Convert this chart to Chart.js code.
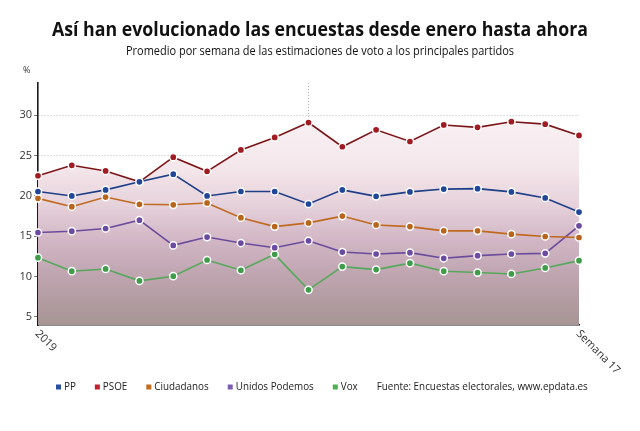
<!DOCTYPE html>
<html>
<head>
<meta charset="utf-8">
<script src="https://cdn.jsdelivr.net/npm/chart.js@4/dist/chart.umd.min.js"></script>
<style>
  html, body { margin: 0; padding: 0; background: #fff; }
  #wrap { width: 640px; height: 431px; position: relative; }
</style>
</head>
<body>
<div id="wrap"><canvas id="c" width="640" height="431"></canvas></div>
<script>
// ---- data ----
const weeks = ['2019', '', '', '', '', '', '', '', '', '', '', '', '', '', '', '', 'Semana 17'];
const seriesNames = ['PP', 'PSOE', 'Ciudadanos', 'Unidos Podemos', 'Vox'];
const pp         = [20.55, 20.0, 20.75, 21.75, 22.7, 20.0, 20.55, 20.55, 19.0, 20.75, 19.95, 20.5, 20.85, 20.9, 20.5, 19.75, 18.0];
const psoe       = [22.5, 23.8, 23.1, 21.75, 24.8, 23.05, 25.7, 27.25, 29.1, 26.1, 28.2, 26.75, 28.8, 28.5, 29.2, 28.9, 27.5];
const ciudadanos = [19.7, 18.67, 19.86, 18.96, 18.9, 19.13, 17.3, 16.2, 16.66, 17.5, 16.4, 16.2, 15.67, 15.67, 15.26, 14.97, 14.85];
const podemos    = [15.47, 15.63, 15.96, 17.0, 13.87, 14.9, 14.16, 13.58, 14.44, 13.04, 12.8, 12.97, 12.27, 12.6, 12.8, 12.88, 16.29];
const vox        = [12.35, 10.67, 10.95, 9.47, 10.05, 12.06, 10.79, 12.76, 8.36, 11.24, 10.87, 11.67, 10.67, 10.5, 10.33, 11.07, 11.98];
const yTicks = [5, 10, 15, 20, 25, 30];
const markerIndex = 8;
const titleText = 'Así han evolucionado las encuestas desde enero hasta ahora';
const subtitleText = 'Promedio por semana de las estimaciones de voto a los principales partidos';
const sourceText = 'Fuente: Encuestas electorales, www.epdata.es';

// ---- styles ----
const lineColors  = ['#1d3f88', '#7c1518', '#c0691f', '#6b4b9d', '#55a85b'];
const pointColors = ['#1f4699', '#a01b22', '#b8651b', '#6c4aa1', '#3f9c48'];
const legendColors = ['#2a4fa2', '#c4202b', '#c26a1e', '#7d5db2', '#4caf50'];

function fillGradient(context) {
  const chart = context.chart;
  const area = chart.chartArea;
  if (!area) return 'rgba(0,0,0,0)';
  const g = chart.ctx.createLinearGradient(0, area.top, 0, area.bottom);
  g.addColorStop(0, '#fdf8f9');
  g.addColorStop(0.35, '#f4e7eb');
  g.addColorStop(0.5, '#e6d2db');
  g.addColorStop(0.65, '#d2b6c5');
  g.addColorStop(0.8, '#bea4af');
  g.addColorStop(1, '#a69494');
  return g;
}

const values = [pp, psoe, ciudadanos, podemos, vox];
const datasets = values.map((v, i) => ({
  label: seriesNames[i],
  data: v,
  borderColor: lineColors[i],
  backgroundColor: i === 1 ? fillGradient : legendColors[i],
  fill: i === 1 ? 'start' : false,
  borderWidth: 1.6,
  tension: 0,
  pointRadius: 3.6,
  pointBorderWidth: 1.5,
  pointBackgroundColor: pointColors[i],
  pointBorderColor: '#ffffff',
  pointHoverRadius: 3.6
}));

function fitText(ctx, text, x, y, width, font, align) {
  ctx.save();
  ctx.font = font;
  const w = ctx.measureText(text).width;
  ctx.translate(x, y);
  ctx.scale(width / w, 1);
  ctx.textAlign = align || 'center';
  ctx.fillText(text, 0, 0);
  ctx.restore();
}

const decor = {
  id: 'decor',
  afterDraw(chart) {
    const ctx = chart.ctx;
    ctx.save();
    ctx.fillStyle = '#111';
    ctx.textBaseline = 'alphabetic';
    fitText(ctx, titleText, 320, 36, 536, 'bold 20px "Open Sans"', 'center');
    ctx.fillStyle = '#111';
    fitText(ctx, subtitleText, 320, 55, 388, '12px "Open Sans"', 'center');
    ctx.fillStyle = '#333';
    ctx.font = '9px "Open Sans"';
    ctx.textAlign = 'left';
    ctx.fillText('%', 23, 73);

    // x labels, rotated down-right
    const xs = chart.scales.x;
    ctx.font = '11px "Open Sans"';
    ctx.fillStyle = '#333';
    ctx.textBaseline = 'middle';
    weeks.forEach((lab, i) => {
      if (!lab) return;
      const px = xs.getPixelForValue(i);
      ctx.save();
      ctx.translate(px - 1, xs.top + 7);
      ctx.rotate(Math.PI / 4);
      ctx.textAlign = 'left';
      ctx.fillText(lab, 0, 0);
      ctx.restore();
    });

    // legend
    ctx.font = '11px "Open Sans"';
    const k = 211 / ctx.measureText(sourceText).width;
    let x = 56;
    const yc = 387;
    ctx.textBaseline = 'middle';
    ctx.textAlign = 'left';
    chart.data.datasets.forEach((ds, i) => {
      ctx.fillStyle = legendColors[i];
      ctx.fillRect(x, yc - 2.5, 5, 5);
      x += 8;
      ctx.fillStyle = '#222';
      const w = ctx.measureText(ds.label).width * k;
      ctx.save();
      ctx.translate(x, yc);
      ctx.scale(k, 1);
      ctx.fillText(ds.label, 0, 0);
      ctx.restore();
      x += w + 19;
    });
    ctx.fillStyle = '#222';
    ctx.save();
    ctx.translate(x, yc);
    ctx.scale(k, 1);
    ctx.fillText(sourceText, 0, 0);
    ctx.restore();
    ctx.restore();
  }
};

new Chart(document.getElementById('c'), {
  type: 'line',
  data: { labels: weeks, datasets },
  plugins: [decor],
  options: {
    responsive: false,
    animation: false,
    layout: { padding: { top: 83, right: 61, bottom: 0, left: 0 } },
    plugins: {
      legend: { display: false },
      title: { display: false },
      tooltip: { enabled: false },
      filler: { drawTime: 'beforeDatasetsDraw' }
    },
    scales: {
      x: {
        type: 'category',
        offset: false,
        afterFit(s) { s.height = 106; },
        ticks: { display: false, autoSkip: false },
        grid: {
          drawTicks: false,
          color: ctx => ctx.index === markerIndex ? 'rgba(150,150,150,0.7)' : 'rgba(0,0,0,0)',
          lineWidth: 1
        },
        border: { display: true, color: '#1a1a1a', width: 1.6, dash: [1, 2] }
      },
      y: {
        min: 4,
        max: 34,
        afterFit(s) { s.width = 38; },
        afterBuildTicks(s) { s.ticks = yTicks.map(v => ({ value: v })); },
        ticks: { color: '#333', font: { family: 'Open Sans', size: 11 }, padding: 2 },
        grid: {
          color: 'rgba(150,150,150,0.6)',
          lineWidth: 1,
          tickLength: 4,
          tickColor: '#777',
          tickBorderDash: [],
          drawTicks: true
        },
        border: { display: true, color: '#1a1a1a', width: 1.6, dash: [1, 2] }
      }
    }
  }
});
</script>
</body>
</html>
